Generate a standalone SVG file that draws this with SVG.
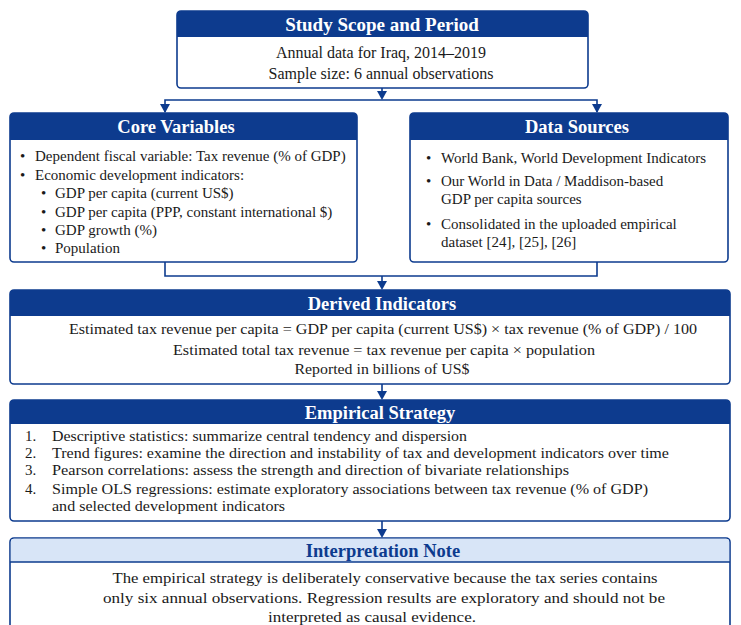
<svg xmlns="http://www.w3.org/2000/svg" width="741" height="625" viewBox="0 0 741 625">
<style>
text{font-family:"Liberation Serif","Times New Roman",serif;fill:#1a1a1a}
.box{fill:#fff;stroke:#0d3b8e;stroke-width:1.6}
.hd{fill:#0d3b8e}
.lhd{fill:#d8e5f7}
.ht{font-weight:bold;font-size:18.5px;fill:#fff;text-anchor:middle}
.lht{font-weight:bold;font-size:18.5px;fill:#0d3b8e;text-anchor:middle}
.b{font-size:15px}
.c{font-size:15px;text-anchor:middle}
.ln{fill:none;stroke:#0d3b8e;stroke-width:1.6}
.ah{fill:#0d3b8e}
</style>
<g id="connectors">
<line class="ln" x1="382" y1="88" x2="382" y2="96"/>
<path class="ah" d="M377,91 L387,91 L382,100 Z"/>
<path class="ln" d="M165,112 L165,100 L597,100 L597,112"/>
<path class="ah" d="M160,104 L170,104 L165,113 Z"/>
<path class="ah" d="M592,104 L602,104 L597,113 Z"/>
<path class="ln" d="M165,262 L165,276 L597,276 L597,262"/>
<line class="ln" x1="382" y1="276" x2="382" y2="284"/>
<path class="ah" d="M377,281 L387,281 L382,290 Z"/>
<line class="ln" x1="382" y1="384" x2="382" y2="393"/>
<path class="ah" d="M377,391 L387,391 L382,400 Z"/>
<line class="ln" x1="382" y1="521" x2="382" y2="531"/>
<path class="ah" d="M377,529 L387,529 L382,538 Z"/>
</g>
<g id="scope">
<rect class="box" x="177" y="11" width="411" height="77" rx="4"/>
<path class="hd" d="M181,11 H584 A4,4 0 0 1 588,15 V37 H177 V15 A4,4 0 0 1 181,11 Z"/>
<text class="ht" x="382" y="30.5" style="font-size:19px">Study Scope and Period</text>
<text class="c" x="381" y="58" style="font-size:16px">Annual data for Iraq, 2014–2019</text>
<text class="c" x="381" y="79" style="font-size:16px">Sample size: 6 annual observations</text>
</g>
<g id="core">
<rect class="box" x="10" y="113" width="347" height="149" rx="4"/>
<path class="hd" d="M14,113 H353 A4,4 0 0 1 357,117 V140 H10 V117 A4,4 0 0 1 14,113 Z"/>
<text class="ht" x="176" y="133">Core Variables</text>
<text class="b" x="20" y="161">•</text><text class="b" x="35" y="161">Dependent fiscal variable: Tax revenue (% of GDP)</text>
<text class="b" x="20" y="180">•</text><text class="b" x="35" y="180">Economic development indicators:</text>
<text class="b" x="41" y="198">•</text><text class="b" x="55" y="198">GDP per capita (current US$)</text>
<text class="b" x="41" y="217">•</text><text class="b" x="55" y="217">GDP per capita (PPP, constant international $)</text>
<text class="b" x="41" y="235">•</text><text class="b" x="55" y="235">GDP growth (%)</text>
<text class="b" x="41" y="253">•</text><text class="b" x="55" y="253">Population</text>
</g>
<g id="sources">
<rect class="box" x="410" y="113" width="318" height="149" rx="4"/>
<path class="hd" d="M414,113 H724 A4,4 0 0 1 728,117 V140 H410 V117 A4,4 0 0 1 414,113 Z"/>
<text class="ht" x="577" y="133">Data Sources</text>
<text class="b" x="426" y="163">•</text><text class="b" x="441" y="163">World Bank, World Development Indicators</text>
<text class="b" x="426" y="186">•</text><text class="b" x="441" y="186">Our World in Data / Maddison-based</text>
<text class="b" x="441" y="204">GDP per capita sources</text>
<text class="b" x="426" y="229">•</text><text class="b" x="441" y="229">Consolidated in the uploaded empirical</text>
<text class="b" x="441" y="247">dataset [24], [25], [26]</text>
</g>
<g id="derived">
<rect class="box" x="10" y="290" width="720" height="94" rx="4"/>
<path class="hd" d="M14,290 H726 A4,4 0 0 1 730,294 V316 H10 V294 A4,4 0 0 1 14,290 Z"/>
<text class="ht" x="382" y="310">Derived Indicators</text>
<text class="c" x="383" y="334" textLength="628" lengthAdjust="spacingAndGlyphs">Estimated tax revenue per capita = GDP per capita (current US$) × tax revenue (% of GDP) / 100</text>
<text class="c" x="384" y="355" textLength="422" lengthAdjust="spacingAndGlyphs">Estimated total tax revenue = tax revenue per capita × population</text>
<text class="c" x="382" y="374" textLength="175" lengthAdjust="spacingAndGlyphs">Reported in billions of US$</text>
</g>
<g id="strategy">
<rect class="box" x="10" y="400" width="720" height="121" rx="4"/>
<path class="hd" d="M14,400 H726 A4,4 0 0 1 730,404 V424 H10 V404 A4,4 0 0 1 14,400 Z"/>
<text class="ht" x="380" y="418.5">Empirical Strategy</text>
<text class="b" x="25" y="441">1.</text><text class="b" x="52" y="441" textLength="415" lengthAdjust="spacingAndGlyphs">Descriptive statistics: summarize central tendency and dispersion</text>
<text class="b" x="25" y="458">2.</text><text class="b" x="52" y="458" textLength="617" lengthAdjust="spacingAndGlyphs">Trend figures: examine the direction and instability of tax and development indicators over time</text>
<text class="b" x="25" y="475">3.</text><text class="b" x="52" y="475" textLength="517" lengthAdjust="spacingAndGlyphs">Pearson correlations: assess the strength and direction of bivariate relationships</text>
<text class="b" x="25" y="494">4.</text><text class="b" x="52" y="494" textLength="596" lengthAdjust="spacingAndGlyphs">Simple OLS regressions: estimate exploratory associations between tax revenue (% of GDP)</text>
<text class="b" x="52" y="511" textLength="233" lengthAdjust="spacingAndGlyphs">and selected development indicators</text>
</g>
<g id="note">
<rect class="box" x="10" y="538" width="720" height="100" rx="4"/>
<path class="lhd" d="M14,538.8 H726 A3.2,3.2 0 0 1 729.2,542 V562 H10.8 V542 A3.2,3.2 0 0 1 14,538.8 Z"/>
<line class="ln" x1="10" y1="562" x2="730" y2="562"/>
<text class="lht" x="383" y="556.5">Interpretation Note</text>
<text class="c" x="385" y="583" textLength="545" lengthAdjust="spacingAndGlyphs">The empirical strategy is deliberately conservative because the tax series contains</text>
<text class="c" x="384" y="603" textLength="562" lengthAdjust="spacingAndGlyphs">only six annual observations. Regression results are exploratory and should not be</text>
<text class="c" x="372" y="622" textLength="208" lengthAdjust="spacingAndGlyphs">interpreted as causal evidence.</text>
</g>
</svg>
